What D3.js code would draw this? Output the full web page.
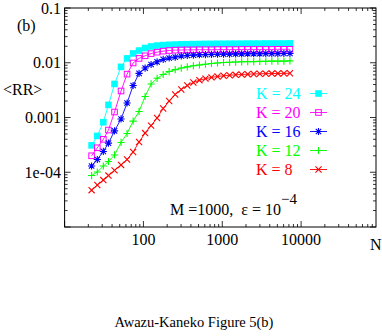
<!DOCTYPE html>
<html>
<head>
<meta charset="utf-8">
<script src="https://cdn.jsdelivr.net/npm/d3@7"></script>
<style>
  body { margin: 0; background: #fff; }
  svg { display: block; font-family: "Liberation Serif", "DejaVu Serif", serif; }
</style>
</head>
<body>
<div id="chart"></div>
<script>
// system size N (x axis)
const sizes = [22, 26, 31, 36, 43, 52, 62, 74, 88, 105, 125, 149, 178, 212, 253, 302, 360,
  430, 513, 612, 730, 870, 1038, 1238, 1477, 1762, 2101, 2506, 2989, 3565, 4252, 5072, 6049, 7215];

// <RR> for each K
const rrK24 = [3.1e-4, 4.6e-4, 8.2e-4, 1.7e-3, 4.1e-3, 8.4e-3, 0.0120, 0.0148, 0.0167, 0.0186, 0.0198,
  0.0206, 0.0210, 0.0213, 0.0215, 0.0217, 0.0218, 0.0219, 0.0220, 0.0221, 0.0221, 0.0222, 0.0222,
  0.0223, 0.0223, 0.0223, 0.0224, 0.0224, 0.0224, 0.0225, 0.0225, 0.0225, 0.0225, 0.0226];
const rrK20 = [2.0e-4, 2.8e-4, 4.0e-4, 5.9e-4, 1.26e-3, 3.05e-3, 6.2e-3, 9.9e-3, 0.0120, 0.0134, 0.0147,
  0.0156, 0.0163, 0.0167, 0.0170, 0.0171, 0.0172, 0.0172, 0.0173, 0.0173, 0.0173, 0.0174, 0.0174,
  0.0174, 0.0174, 0.0175, 0.0175, 0.0175, 0.0175, 0.0175, 0.0175, 0.0176, 0.0176, 0.0176];
const rrK16 = [1.30e-4, 1.71e-4, 2.4e-4, 3.4e-4, 5.7e-4, 9.4e-4, 1.84e-3, 3.84e-3, 6.4e-3, 8.0e-3, 9.3e-3,
  0.0104, 0.0115, 0.0122, 0.0127, 0.0133, 0.0136, 0.0138, 0.0140, 0.0141, 0.0142, 0.0143, 0.0144,
  0.0144, 0.0145, 0.0145, 0.0146, 0.0146, 0.0146, 0.0147, 0.0147, 0.0147, 0.0148, 0.0148];
const rrK12 = [8.7e-5, 1.01e-4, 1.30e-4, 1.57e-4, 2.07e-4, 3.5e-4, 5.1e-4, 8.6e-4, 1.29e-3, 2.42e-3, 4.1e-3,
  5.2e-3, 6.1e-3, 6.9e-3, 7.5e-3, 8.0e-3, 8.4e-3, 8.8e-3, 9.1e-3, 9.4e-3, 9.7e-3, 9.9e-3, 0.0101,
  0.0102, 0.0103, 0.0104, 0.0105, 0.0105, 0.0106, 0.0106, 0.0107, 0.0107, 0.0107, 0.0108];
const rrK8 = [4.7e-5, 5.85e-5, 7.2e-5, 8.7e-5, 1.08e-4, 1.36e-4, 1.71e-4, 2.34e-4, 3.57e-4, 5.2e-4, 7.1e-4,
  9.8e-4, 1.46e-3, 2.0e-3, 2.63e-3, 3.25e-3, 3.84e-3, 4.36e-3, 4.8e-3, 5.13e-3, 5.4e-3, 5.61e-3, 5.78e-3,
  5.92e-3, 6.02e-3, 6.1e-3, 6.18e-3, 6.24e-3, 6.29e-3, 6.32e-3, 6.35e-3, 6.38e-3, 6.4e-3, 6.42e-3];

const seriesLabels = ["K = 24", "K = 20", "K = 16", "K = 12", "K = 8"];
const seriesValues = [rrK24, rrK20, rrK16, rrK12, rrK8];
const seriesColors = ["#00ffff", "#ff00ff", "#0000ff", "#00ff00", "#ff0000"];
const seriesMarkers = ["fsquare", "square", "star", "plus", "cross"];

const xTickValues = [100, 1000, 10000];
const yTickValues = [1e-4, 1e-3, 1e-2, 1e-1];
const yTickLabels = ["1e-04", "0.001", "0.01", "0.1"];

const width = 382, height = 336;
const plot = { left: 64.6, right: 376, top: 8, bottom: 227 };

const svg = d3.select("#chart").append("svg")
  .attr("width", width)
  .attr("height", height);

const x = d3.scaleLog().domain([10, Math.pow(10, 4.95)]).range([plot.left, plot.right]);
const y = d3.scaleLog().domain([1e-5, 0.1]).range([plot.bottom, plot.top]);

// 坐标框
svg.append("rect")
  .attr("x", plot.left).attr("y", plot.top)
  .attr("width", plot.right - plot.left).attr("height", plot.bottom - plot.top)
  .attr("fill", "none").attr("stroke", "#000").attr("stroke-width", 1);

// log ticks (major + minor), pointing inwards on all four sides
function logTicks(lo, hi) {
  const out = [];
  for (let e = Math.floor(Math.log10(lo)); e <= Math.ceil(Math.log10(hi)); e++) {
    for (let m = 1; m < 10; m++) {
      const v = m * Math.pow(10, e);
      if (v >= lo * 0.999 && v <= hi * 1.001) out.push({ v, major: m === 1 });
    }
  }
  return out;
}

const ticks = svg.append("g").attr("stroke", "#000").attr("stroke-width", 0.8);
logTicks(10, Math.pow(10, 4.95)).forEach(t => {
  const len = t.major ? 6 : 3;
  const px = x(t.v);
  ticks.append("line").attr("x1", px).attr("x2", px).attr("y1", plot.bottom).attr("y2", plot.bottom - len);
  ticks.append("line").attr("x1", px).attr("x2", px).attr("y1", plot.top).attr("y2", plot.top + len);
});
logTicks(1e-5, 0.1).forEach(t => {
  const len = t.major ? 6 : 3;
  const py = y(t.v);
  ticks.append("line").attr("x1", plot.left).attr("x2", plot.left + len).attr("y1", py).attr("y2", py);
  ticks.append("line").attr("x1", plot.right).attr("x2", plot.right - len).attr("y1", py).attr("y2", py);
});

// tick labels
svg.append("g").selectAll("text").data(xTickValues).join("text")
  .attr("x", d => x(d)).attr("y", 245)
  .attr("text-anchor", "middle").attr("font-size", 16)
  .text(d => d);
svg.append("g").selectAll("text").data(yTickValues).join("text")
  .attr("x", 61).attr("y", d => y(d) + 5.5)
  .attr("text-anchor", "end").attr("font-size", 16)
  .text((d, i) => yTickLabels[i]);

// axis titles etc.
svg.append("text").attr("x", 370).attr("y", 250).attr("font-size", 16).text("N");
svg.append("text").attr("x", 3).attr("y", 95).attr("font-size", 16).text("<RR>");
svg.append("text").attr("x", 17).attr("y", 31).attr("font-size", 16).text("(b)");

const note = svg.append("text").attr("x", 170).attr("y", 215).attr("font-size", 16);
note.append("tspan").text("M =1000,\u00a0 \u03b5 = 10");
note.append("tspan").attr("dy", -11).attr("font-size", 15).text("\u22124");

svg.append("text").attr("x", 194).attr("y", 327).attr("text-anchor", "middle")
  .attr("font-size", 14.5).text("Awazu-Kaneko Figure 5(b)");

// 点标记
function drawMarker(g, kind, color, cx, cy) {
  const s = 3.3;
  if (kind === "fsquare") {
    g.append("rect").attr("x", cx - s).attr("y", cy - s).attr("width", 2 * s).attr("height", 2 * s)
      .attr("fill", color);
  } else if (kind === "square") {
    g.append("rect").attr("x", cx - s + 0.5).attr("y", cy - s + 0.5)
      .attr("width", 2 * s - 1).attr("height", 2 * s - 1)
      .attr("fill", "none").attr("stroke", color).attr("stroke-width", 1);
  } else {
    let d = "";
    const r = 3.6;
    if (kind === "plus" || kind === "star") d += `M${cx - r},${cy}H${cx + r}M${cx},${cy - r}V${cy + r}`;
    if (kind === "cross" || kind === "star") {
      const q = kind === "star" ? r * 0.75 : r * 0.85;
      d += `M${cx - q},${cy - q}L${cx + q},${cy + q}M${cx - q},${cy + q}L${cx + q},${cy - q}`;
    }
    g.append("path").attr("d", d).attr("fill", "none").attr("stroke", color).attr("stroke-width", 1.1);
  }
}

const line = d3.line().x(d => x(d[0])).y(d => y(d[1]));

seriesValues.forEach((vals, i) => {
  const pts = sizes.map((n, j) => [n, vals[j]]);
  const g = svg.append("g");
  g.append("path").datum(pts).attr("d", line)
    .attr("fill", "none").attr("stroke", seriesColors[i]).attr("stroke-width", 0.9);
  pts.forEach(p => drawMarker(g, seriesMarkers[i], seriesColors[i], x(p[0]), y(p[1])));
});

// legend
const legendY0 = 93.5, legendDy = 19;
seriesLabels.forEach((lab, i) => {
  const ly = legendY0 + i * legendDy;
  svg.append("text").attr("x", 256).attr("y", ly + 5.5).attr("font-size", 16)
    .attr("fill", seriesColors[i]).text(lab);
  const g = svg.append("g");
  g.append("line").attr("x1", 310).attr("x2", 327).attr("y1", ly).attr("y2", ly)
    .attr("stroke", seriesColors[i]).attr("stroke-width", 0.9);
  drawMarker(g, seriesMarkers[i], seriesColors[i], 318.5, ly);
});
</script>
</body>
</html>
